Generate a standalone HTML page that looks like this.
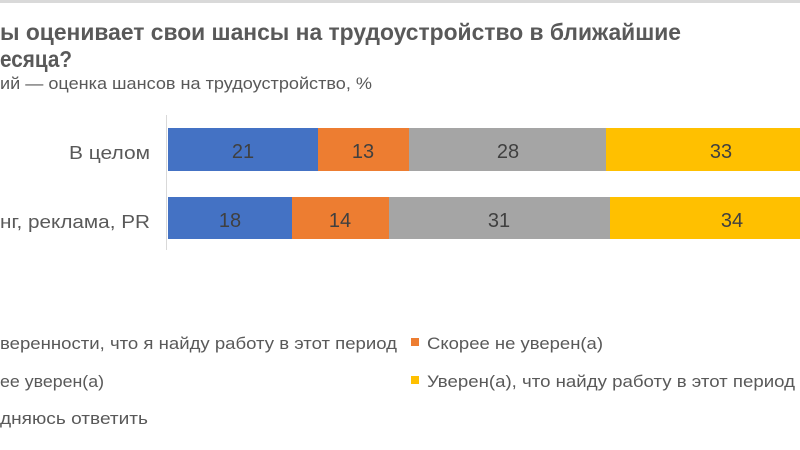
<!DOCTYPE html>
<html><head><meta charset="utf-8"><style>
html,body{margin:0;padding:0;background:#fff;width:800px;height:450px;overflow:hidden}
svg{display:block;font-family:"Liberation Sans",sans-serif}
</style></head><body>
<svg width="800" height="450" viewBox="0 0 800 450">
<rect x="0" y="0" width="800" height="3" fill="#d9d9d9"/>
<g fill="#595959">
<text x="0" y="40" font-size="23" font-weight="bold" textLength="681" lengthAdjust="spacingAndGlyphs">ы оценивает свои шансы на трудоустройство  в ближайшие</text>
<text x="0" y="67" font-size="23" font-weight="bold" textLength="72" lengthAdjust="spacingAndGlyphs">есяца?</text>
<text x="0" y="89" font-size="17" textLength="372" lengthAdjust="spacingAndGlyphs">ий — оценка шансов на трудоустройство, %</text>
<text x="150" y="159" font-size="18" text-anchor="end" textLength="81" lengthAdjust="spacingAndGlyphs">В целом</text>
<text x="150" y="228" font-size="18" text-anchor="end" textLength="150" lengthAdjust="spacingAndGlyphs">нг, реклама,  PR</text>
</g>
<line x1="166.5" y1="115" x2="166.5" y2="250" stroke="#d9d9d9" stroke-width="1"/>
<rect x="168" y="128" width="150" height="43" fill="#4472c4"/>
<rect x="318" y="128" width="91" height="43" fill="#ed7d31"/>
<rect x="409" y="128" width="197" height="43" fill="#a5a5a5"/>
<rect x="606" y="128" width="194" height="43" fill="#ffc000"/>
<rect x="168" y="197" width="124" height="42" fill="#4472c4"/>
<rect x="292" y="197" width="97" height="42" fill="#ed7d31"/>
<rect x="389" y="197" width="221" height="42" fill="#a5a5a5"/>
<rect x="610" y="197" width="190" height="42" fill="#ffc000"/>
<g fill="#404040" font-size="20" text-anchor="middle">
<text x="243" y="158">21</text><text x="363" y="158">13</text><text x="508" y="158">28</text><text x="721" y="158">33</text>
<text x="230" y="227">18</text><text x="340" y="227">14</text><text x="499" y="227">31</text><text x="732" y="227">34</text>
</g>
<g fill="#595959" font-size="17">
<text x="0" y="349" textLength="397" lengthAdjust="spacingAndGlyphs">веренности, что я найду работу в этот период</text>
<rect x="411" y="338" width="8" height="8" fill="#ed7d31"/>
<text x="427" y="349" textLength="176" lengthAdjust="spacingAndGlyphs">Скорее не уверен(а)</text>
<text x="0" y="387" textLength="104" lengthAdjust="spacingAndGlyphs">ее уверен(а)</text>
<rect x="411" y="376" width="8" height="8" fill="#ffc000"/>
<text x="427" y="387" textLength="368" lengthAdjust="spacingAndGlyphs">Уверен(а), что найду работу в этот период</text>
<text x="0" y="424" textLength="148" lengthAdjust="spacingAndGlyphs">дняюсь ответить</text>
</g>
</svg>
</body></html>
